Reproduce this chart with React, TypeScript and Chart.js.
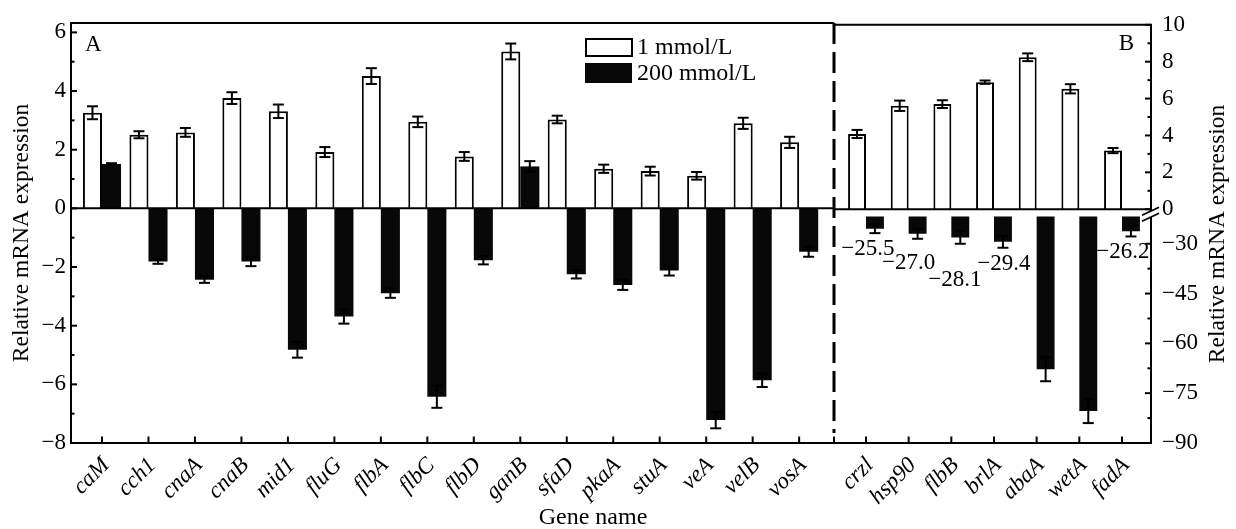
import React, { useEffect, useRef } from 'react';
import { Chart, registerables, LinearScale } from 'chart.js';

Chart.register(...registerables);

// ---------- data ----------
const GENES_A = ['caM', 'cch1', 'cnaA', 'cnaB', 'mid1', 'fluG', 'flbA', 'flbC', 'flbD', 'ganB', 'sfaD', 'pkaA', 'stuA', 'veA', 'velB', 'vosA'];
const LOW_A = [3.26, 2.51, 2.59, 3.76, 3.31, 1.92, 4.51, 2.95, 1.77, 5.35, 3.03, 1.35, 1.27, 1.11, 2.9, 2.25];
const LOW_A_ERR = [0.22, 0.12, 0.15, 0.2, 0.23, 0.17, 0.27, 0.18, 0.15, 0.27, 0.13, 0.14, 0.15, 0.13, 0.19, 0.19];
const HIGH_A = [1.51, -1.81, -2.43, -1.81, -4.82, -3.69, -2.89, -6.42, -1.77, 1.43, -2.25, -2.61, -2.12, -7.22, -5.86, -1.48];
const HIGH_A_ERR = [0.03, 0.08, 0.11, 0.16, 0.27, 0.24, 0.16, 0.38, 0.14, 0.18, 0.14, 0.17, 0.17, 0.28, 0.23, 0.17];

const GENES_B = ['crzl', 'hsp90', 'flbB', 'brlA', 'abaA', 'wetA', 'fadA'];
const LOW_B = [4.08, 5.61, 5.7, 6.89, 8.24, 6.53, 3.18];
const LOW_B_ERR = [0.22, 0.28, 0.21, 0.09, 0.21, 0.25, 0.14];
const HIGH_B = [-25.5, -27.0, -28.1, -29.4, -67.8, -80.4, -26.2];
const HIGH_B_ERR = [1.3, 1.5, 1.9, 1.8, 3.6, 3.6, 1.6];
const HIGH_B_LABELLED = [true, true, true, true, false, false, true];

const SERIES = ['1 mmol/L', '200 mmol/L'];

const Y_A_TICKS = [-8, -6, -4, -2, 0, 2, 4, 6];
const Y_A_MINOR = [-7, -5, -3, -1, 1, 3, 5];
const Y_B_TICKS = [10, 8, 6, 4, 2, 0, -30, -45, -60, -75, -90];
const Y_B_MINOR = [9, 7, 5, 3, 1, -37.5, -52.5, -67.5, -82.5];

// ---------- layout / style ----------
const W = 1236;
const H = 529;
const FONT = "'Liberation Serif', 'Times New Roman', 'DejaVu Serif', serif";
const MINUS = '\u2212';
const fmt = (v: number) => String(v).replace('-', MINUS);
const fmt1 = (v: number) => v.toFixed(1).replace('-', MINUS);
const BLACK = '#080808';

// broken right axis: [0, 10] on top, [-90, B_BREAK] below
const B_UPPER_MAX = 10;
const B_BREAK = -19.6;
const B_MIN = -90;
const UPPER_FRACTION = 0.441;
const B_BAR_BASE = -21.8;

// label offsets (px) relative to the end of each black bar in panel B
const LABEL_DX = [-7, -9, -5.5, 1, 0, 0, -8];
const LABEL_DY = [20, 29, 43, 22, 0, 0, 21];

class BrokenScale extends LinearScale {
  static id = 'broken';
  static defaults = {};
  getPixelForValue(value: number) {
    const top = (this as any).top;
    const bottom = (this as any).bottom;
    const split = top + (bottom - top) * UPPER_FRACTION;
    if (value >= 0) return split - (value / B_UPPER_MAX) * (split - top);
    if (value > B_BREAK) return split;
    return split + ((B_BREAK - value) / (B_BREAK - B_MIN)) * (bottom - split);
  }
  getValueForPixel(pixel: number) {
    const top = (this as any).top;
    const bottom = (this as any).bottom;
    const split = top + (bottom - top) * UPPER_FRACTION;
    if (pixel <= split) return ((split - pixel) / (split - top)) * B_UPPER_MAX;
    return B_BREAK - ((pixel - split) / (bottom - split)) * (B_BREAK - B_MIN);
  }
}
Chart.register(BrokenScale as any);

function line(ctx: CanvasRenderingContext2D, x1: number, y1: number, x2: number, y2: number) {
  ctx.beginPath();
  ctx.moveTo(x1, y1);
  ctx.lineTo(x2, y2);
  ctx.stroke();
}

function drawErrors(chart: any) {
  const ctx = chart.ctx as CanvasRenderingContext2D;
  const yS = chart.scales.y;
  ctx.save();
  ctx.strokeStyle = '#000';
  ctx.lineWidth = 2;
  chart.data.datasets.forEach((ds: any, di: number) => {
    const meta = chart.getDatasetMeta(di);
    ds.errors.forEach((e: number, i: number) => {
      const el = meta.data[i];
      const v = ds.data[i].y;
      const p1 = yS.getPixelForValue(v + e);
      const p2 = yS.getPixelForValue(v - e);
      line(ctx, el.x, p1, el.x, p2);
      line(ctx, el.x - 5.5, p1, el.x + 5.5, p1);
      line(ctx, el.x - 5.5, p2, el.x + 5.5, p2);
    });
  });
  ctx.restore();
}

const decorA = {
  id: 'decorA',
  afterDatasetsDraw(chart: any) {
    const ctx = chart.ctx as CanvasRenderingContext2D;
    const a = chart.chartArea;
    const y0 = chart.scales.y.getPixelForValue(0);
    ctx.save();
    ctx.strokeStyle = '#000';
    ctx.lineWidth = 2;
    line(ctx, a.left, y0, a.right, y0);
    ctx.restore();
    drawErrors(chart);
  },
  afterDraw(chart: any) {
    const ctx = chart.ctx as CanvasRenderingContext2D;
    const a = chart.chartArea;
    const xS = chart.scales.x;
    const yS = chart.scales.y;
    ctx.save();
    ctx.strokeStyle = '#000';
    ctx.lineWidth = 2;
    line(ctx, a.left - 1, a.top, a.right, a.top);
    Y_A_TICKS.forEach((v) => {
      const p = yS.getPixelForValue(v);
      line(ctx, a.left, p, a.left + 6, p);
    });
    Y_A_MINOR.forEach((v) => {
      const p = yS.getPixelForValue(v);
      line(ctx, a.left, p, a.left + 3.5, p);
    });
    GENES_A.forEach((_, i) => {
      const p = xS.getPixelForValue(i);
      line(ctx, p, a.bottom, p, a.bottom - 6.5);
    });
    line(ctx, a.right, a.bottom, a.right, a.bottom - 6.5);
    // dashed separator between panels
    ctx.lineWidth = 3;
    ctx.setLineDash([21, 8]);
    line(ctx, a.right, a.top, a.right, a.bottom - 10);
    ctx.setLineDash([]);
    // legend
    ctx.lineWidth = 2;
    ctx.fillStyle = '#fff';
    ctx.fillRect(586, 39, 46, 17);
    ctx.strokeRect(586, 39, 46, 17);
    ctx.fillStyle = BLACK;
    ctx.fillRect(585, 63, 47, 20);
    ctx.fillStyle = '#000';
    ctx.font = `24px ${FONT}`;
    ctx.textBaseline = 'middle';
    ctx.textAlign = 'left';
    ctx.fillText(SERIES[0], 637, 48);
    ctx.fillText(SERIES[1], 637, 73.5);
    // panel letter
    ctx.font = `23px ${FONT}`;
    ctx.fillText('A', 85, 45);
    // x title
    ctx.textAlign = 'center';
    ctx.font = `24px ${FONT}`;
    ctx.fillText('Gene name', 593, 518);
    ctx.restore();
  },
};

const decorB = {
  id: 'decorB',
  afterDatasetsDraw(chart: any) {
    const ctx = chart.ctx as CanvasRenderingContext2D;
    const a = chart.chartArea;
    const y0 = chart.scales.y.getPixelForValue(0);
    ctx.save();
    ctx.strokeStyle = '#000';
    ctx.lineWidth = 2;
    line(ctx, a.left, y0, a.right, y0);
    ctx.restore();
    drawErrors(chart);
    // value labels
    const meta = chart.getDatasetMeta(1);
    ctx.save();
    ctx.fillStyle = '#000';
    ctx.font = `23px ${FONT}`;
    ctx.textAlign = 'center';
    ctx.textBaseline = 'middle';
    HIGH_B.forEach((v, i) => {
      if (!HIGH_B_LABELLED[i]) return;
      const el = meta.data[i];
      ctx.fillText(fmt1(v), el.x + LABEL_DX[i], el.y + LABEL_DY[i]);
    });
    ctx.restore();
  },
  afterDraw(chart: any) {
    const ctx = chart.ctx as CanvasRenderingContext2D;
    const a = chart.chartArea;
    const xS = chart.scales.x;
    const yS = chart.scales.y;
    ctx.save();
    ctx.strokeStyle = '#000';
    ctx.lineWidth = 2;
    line(ctx, a.left, a.top, a.right + 1, a.top);
    Y_B_TICKS.forEach((v) => {
      const p = yS.getPixelForValue(v);
      line(ctx, a.right - 6, p, a.right, p);
    });
    Y_B_MINOR.forEach((v) => {
      const p = yS.getPixelForValue(v);
      line(ctx, a.right - 3.5, p, a.right, p);
    });
    GENES_B.forEach((_, i) => {
      const p = xS.getPixelForValue(i);
      line(ctx, p, a.bottom, p, a.bottom - 6.5);
    });
    // axis break mark
    const y0 = yS.getPixelForValue(0);
    const bx1 = a.right - 9;
    const bx2 = a.right + 8;
    ctx.fillStyle = '#fff';
    ctx.beginPath();
    ctx.moveTo(bx1, y0 + 6);
    ctx.lineTo(bx2, y0 - 2);
    ctx.lineTo(bx2, y0 + 4);
    ctx.lineTo(bx1, y0 + 12);
    ctx.closePath();
    ctx.fill();
    ctx.lineWidth = 1.8;
    line(ctx, bx1, y0 + 6, bx2, y0 - 2);
    line(ctx, bx1, y0 + 12, bx2, y0 + 4);
    // panel letter
    ctx.fillStyle = '#000';
    ctx.font = `23px ${FONT}`;
    ctx.textAlign = 'right';
    ctx.textBaseline = 'middle';
    ctx.fillText('B', 1134, 44);
    // right title
    ctx.translate(1218, (a.top + a.bottom) / 2);
    ctx.rotate(-Math.PI / 2);
    ctx.textAlign = 'center';
    ctx.font = `23.5px ${FONT}`;
    ctx.fillText('Relative mRNA expression', 0, 0);
    ctx.restore();
  },
};

function xAxis(genes: string[], min: number, max: number) {
  return {
    type: 'linear',
    min,
    max,
    offset: false,
    afterBuildTicks: (s: any) => {
      s.ticks = genes.map((_, i) => ({ value: i }));
    },
    afterFit: (s: any) => {
      s.height = 86;
    },
    grid: { display: false, drawTicks: false, offset: false },
    border: { display: true, color: '#000', width: 2 },
    ticks: {
      autoSkip: false,
      minRotation: 45,
      maxRotation: 45,
      padding: 9,
      labelOffset: 4,
      color: '#000',
      font: { family: FONT, size: 23, style: 'italic' },
      callback: (v: number) => genes[v] ?? '',
    },
  };
}

function barSet(label: string, values: number[], errors: number[], fill: string, border: number, pct: number, base?: number) {
  const ds: any = {
    label,
    data: values.map((y, i) => ({ x: i, y })),
    errors,
    backgroundColor: fill,
    borderColor: '#000',
    borderWidth: border,
    categoryPercentage: pct,
    barPercentage: 1,
  };
  if (base !== undefined) ds.base = base;
  return ds;
}

export default function App() {
  const refA = useRef<HTMLCanvasElement>(null);
  const refB = useRef<HTMLCanvasElement>(null);

  useEffect(() => {
    const common = {
      responsive: false,
      maintainAspectRatio: false,
      animation: false,
      events: [],
      plugins: { legend: { display: false }, tooltip: { enabled: false } },
    };

    const chartA = new Chart(refA.current as HTMLCanvasElement, {
      type: 'bar',
      data: {
        datasets: [
          barSet(SERIES[0], LOW_A, LOW_A_ERR, '#fff', 2, 0.82),
          barSet(SERIES[1], HIGH_A, HIGH_A_ERR, BLACK, 0, 0.82),
        ],
      },
      options: {
        ...common,
        layout: { padding: { left: 0, right: W - 834, top: 23, bottom: 0 } },
        scales: {
          x: xAxis(GENES_A, -0.667, 15.75),
          y: {
            type: 'linear',
            min: -8,
            max: 6.32,
            afterBuildTicks: (s: any) => {
              s.ticks = Y_A_TICKS.map((value) => ({ value }));
            },
            afterFit: (s: any) => {
              s.width = 71;
            },
            grid: { display: false, drawTicks: false },
            border: { display: true, color: '#000', width: 2 },
            ticks: {
              autoSkip: false,
              padding: 5,
              color: '#000',
              font: { family: FONT, size: 23 },
              callback: (v: number) => fmt(v),
            },
            title: {
              display: true,
              text: 'Relative mRNA expression',
              color: '#000',
              font: { family: FONT, size: 23.5 },
              padding: { top: 8, bottom: 0 },
            },
          },
        },
      } as any,
      plugins: [decorA],
    } as any);

    const chartB = new Chart(refB.current as HTMLCanvasElement, {
      type: 'bar',
      data: {
        datasets: [
          barSet(SERIES[0], LOW_B, LOW_B_ERR, '#fff', 2, 0.84),
          barSet(SERIES[1], HIGH_B, HIGH_B_ERR, BLACK, 0, 0.84, B_BAR_BASE),
        ],
      },
      options: {
        ...common,
        layout: { padding: { left: 834, right: 0, top: 23, bottom: 0 } },
        scales: {
          x: xAxis(GENES_B, -0.75, 6.68),
          y: {
            type: 'broken',
            position: 'right',
            min: B_MIN,
            max: B_UPPER_MAX,
            afterBuildTicks: (s: any) => {
              s.ticks = Y_B_TICKS.map((value) => ({ value }));
            },
            afterFit: (s: any) => {
              s.width = W - 1151;
            },
            grid: { display: false, drawTicks: false },
            border: { display: true, color: '#000', width: 2 },
            ticks: {
              autoSkip: false,
              padding: 11,
              color: '#000',
              font: { family: FONT, size: 23 },
              callback: (v: number) => fmt(v),
            },
          },
        },
      } as any,
      plugins: [decorB],
    } as any);

    return () => {
      chartA.destroy();
      chartB.destroy();
    };
  }, []);

  return (
    <div style={{ position: 'absolute', left: 0, top: 0, width: W, height: H, background: '#fff' }}>
      <canvas ref={refA} width={W} height={H} style={{ position: 'absolute', left: 0, top: 0 }} />
      <canvas ref={refB} width={W} height={H} style={{ position: 'absolute', left: 0, top: 0 }} />
    </div>
  );
}
